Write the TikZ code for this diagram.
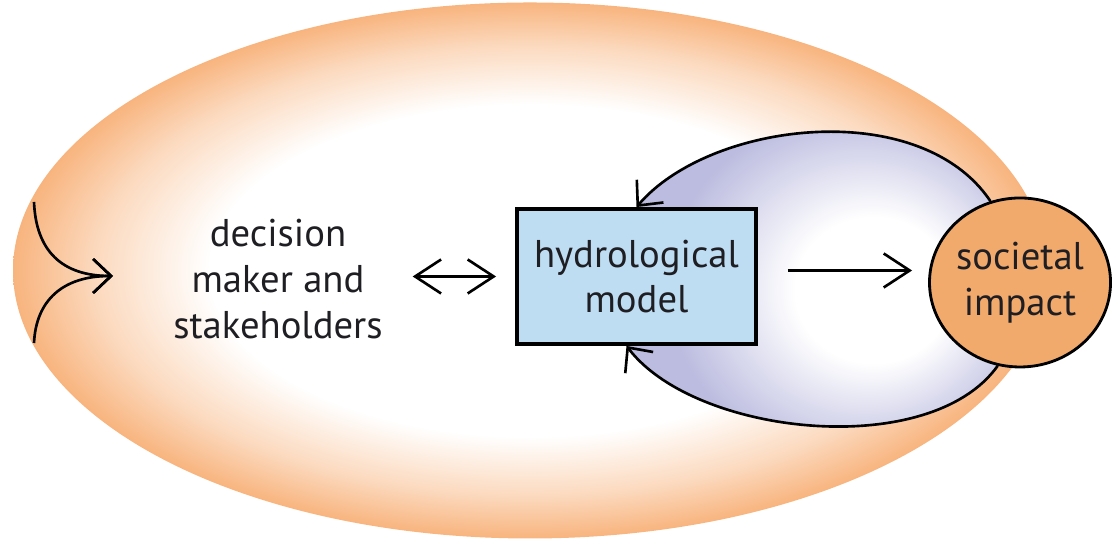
\documentclass[tikz,border=0pt]{standalone}
\usepackage{fontspec}
\setmainfont{PT Sans}
\usepackage{xcolor}
\usepackage{tikz}
\usetikzlibrary{positioning, shapes, calc, arrows.meta, backgrounds}

\definecolor{rimorange}{RGB}{248,180,126}
\definecolor{impactorange}{RGB}{242,170,108}
\definecolor{modelblue}{RGB}{190,221,243}
\definecolor{loopviolet}{RGB}{188,188,224}
\definecolor{inktext}{RGB}{30,30,35}

\pgfdeclareradialshading{rimshade}{\pgfpoint{0bp}{0bp}}{color(0bp)=(white); color(15.5bp)=(white); color(21bp)=(rimorange!50); color(25bp)=(rimorange); color(50bp)=(rimorange)}
\pgfdeclareradialshading{loopshade}{\pgfpoint{8bp}{-2bp}}{color(0bp)=(white); color(10bp)=(white); color(24bp)=(loopviolet); color(50bp)=(loopviolet)}

\begin{document}
\begin{tikzpicture}[line width=0.75pt,
	every node/.style={text=inktext, font=\fontsize{11}{13}\selectfont, align=center},
	modelbox/.style={draw, line width=1.1pt, fill=modelblue, minimum width=2.39cm, minimum height=1.35cm, inner sep=0pt},
	impactblob/.style={ellipse, draw, line width=0.8pt, fill=impactorange, minimum width=1.72cm, minimum height=1.69cm, inner sep=0pt},
	barb/.style={-{Straight Barb[length=2.6mm,width=3.4mm]}},
	dblbarb/.style={{Straight Barb[length=2.6mm,width=3.4mm]}-{Straight Barb[length=2.6mm,width=3.4mm]}},
	loopbarb/.style={-{Straight Barb[length=1.9mm,width=3.5mm]}}]
	
	\useasboundingbox (0,0) rectangle (11.12,5.41);
	
	%//the three parts
	\node (dm) at (2.78,2.62) {decision\\maker and\\stakeholders};
	\node [modelbox] (model) at (6.365,2.645) {hydrological\\model};
	\node [impactblob] (impact) at (10.20,2.585) {societal\\impact};
	
	%//shaded backgrounds
	\begin{scope}[on background layer]
	\shade [shading=rimshade] (5.30,2.705) ellipse [x radius=5.17cm, y radius=2.68cm];
	\shade [shading=loopshade] (model.north) .. controls (7.1,4.2) and (9.2,4.45) .. (impact.110) -- (impact.center) -- (impact.255) .. controls (9.3,0.8) and (6.95,1.05) .. ([xshift=-0.1cm]model.south) -- cycle;
	\end{scope}
	
	%//feedback loop
	\draw [loopbarb] (impact.110) .. controls (9.2,4.45) and (7.1,4.2) .. (model.north);
	\draw [loopbarb] (impact.255) .. controls (9.3,0.8) and (6.95,1.05) .. ([xshift=-0.1cm]model.south);
	
	\draw [dblbarb, shorten <=0.17cm, shorten >=0.19cm] (dm.east |- model.west) -- (model.west);
	\draw [barb, shorten <=0.3cm, shorten >=0.16cm] ([yshift=0.06cm]model.east) -- ([yshift=0.06cm]model.east -| impact.west);
	
	%//incoming arrows at the left
	\coordinate (feedtip) at (1.13,2.65);
	\foreach \y/\c in {3.39/2.9, 1.98/2.4}
	\draw [-{Straight Barb[length=1.8mm,width=3.4mm]}] (0.34,\y) .. controls (0.36,\c) and (0.62,2.65) .. (feedtip);
	
\end{tikzpicture}
\end{document}
